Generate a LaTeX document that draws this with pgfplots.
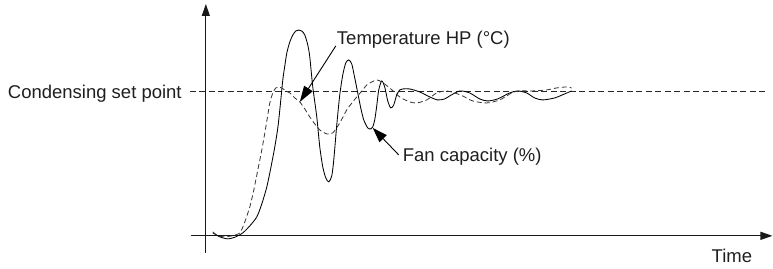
\documentclass[border=0pt]{standalone}
\usepackage{pgfplots}
\pgfplotsset{compat=1.18}
\usepackage{fontspec}
\setmainfont{Liberation Sans}
\usetikzlibrary{arrows.meta}
\tikzset{lbl/.style={font=\fontsize{18.5}{22}\selectfont, text=black!88, inner sep=0pt}}
\begin{document}
\begin{tikzpicture}
\begin{axis}[
  width=773pt, height=269pt, scale only axis,
  xmin=0, xmax=773, ymin=0, ymax=269, y dir=reverse,
  hide axis, clip=false,
]
\path (axis cs:0,0) rectangle (axis cs:773,269);
% axes
\draw[line width=1.1pt, black!90, -{Triangle[length=12pt,width=8pt]}] (axis cs:206,253) -- (axis cs:206,4);
\draw[line width=1.1pt, black!90, -{Triangle[length=12pt,width=8pt]}] (axis cs:191,236) -- (axis cs:773,236);
% set point
\addplot[black!85, line width=0.8pt, dash pattern=on 6pt off 3.5pt] coordinates {(190,91.5) (768,91.5)};
% Fan capacity (solid)
\addplot[black, line width=0.85pt, smooth, tension=0.45] coordinates {
(213,233)(220,237)(228,239)(236,237)(243,233)(250,226)(257,217)(262,204)(267,187)(271,168)(275,147)(278,128)(280,110)(283,80)(285,66)(287,53)(290,42)(293,35)(296,31)(299,30)(302,31)(305,35)(308,45)(310,57)(313,87)(317,117)(320,147)(323,167)(326,178)(329,182)(332,176)(334,160)(337,125)(340,95)(343,75)(346,63)(349,60)(352,64)(355,78)(358,93)(361,108)(364,120)(368,128)(371,129)(373,127)(375,120)(377,106)(379,90)(382,81)(385,87)(388,101)(391,108)(394,105)(397,95)(400,90)(403,89)(410,89)(420,92)(430,97)(438,100)(445,99)(450,96)(460,91)(470,93)(480,99)(488,101)(498,99)(510,93)(518,91)(527,93)(535,98)(543,100)(555,98)(565,94)(572,91)
};
% Temperature HP (dashed)
\addplot[black!80, line width=0.8pt, dash pattern=on 5pt off 3pt, smooth, tension=0.45] coordinates {
(213,232)(218,236)(225,237)(232,236)(240,233)(245,222)(250,207)(254,190)(258,170)(262,150)(265,133)(268,115)(270,103)(273,93)(276,88)(279,87)(282,88)(286,91)(290,93)(295,98)(300,102)(305,109)(310,117)(315,124)(320,130)(327,134)(333,133)(340,123)(347,110)(353,102)(357,97)(363,90)(367,85)(372,82)(377,80)(382,82)(390,88)(400,97)(410,102)(417,103)(427,100)(437,93)(447,91)(455,93)(463,96)(473,101)(487,103)(500,100)(512,93)(520,91)(533,91)(547,90)(557,88)(567,87)(572,88)
};
% labels
\node[lbl, anchor=base east] at (axis cs:182,98.5) {Condensing set point};
\node[lbl, anchor=west] at (axis cs:337,40) {Temperature HP (°C)};
\node[lbl, anchor=west] at (axis cs:403,157) {Fan capacity (\%)};
\node[lbl, anchor=base west] at (axis cs:712,263) {Time};
% arrows
\draw[line width=0.9pt, black, -{Triangle[length=16pt,width=10pt]}] (axis cs:336,46) -- (axis cs:300,102);
\draw[line width=0.9pt, black, -{Triangle[length=15pt,width=10pt]}] (axis cs:399,155) -- (axis cs:373,128);
\end{axis}
\end{tikzpicture}
\end{document}
